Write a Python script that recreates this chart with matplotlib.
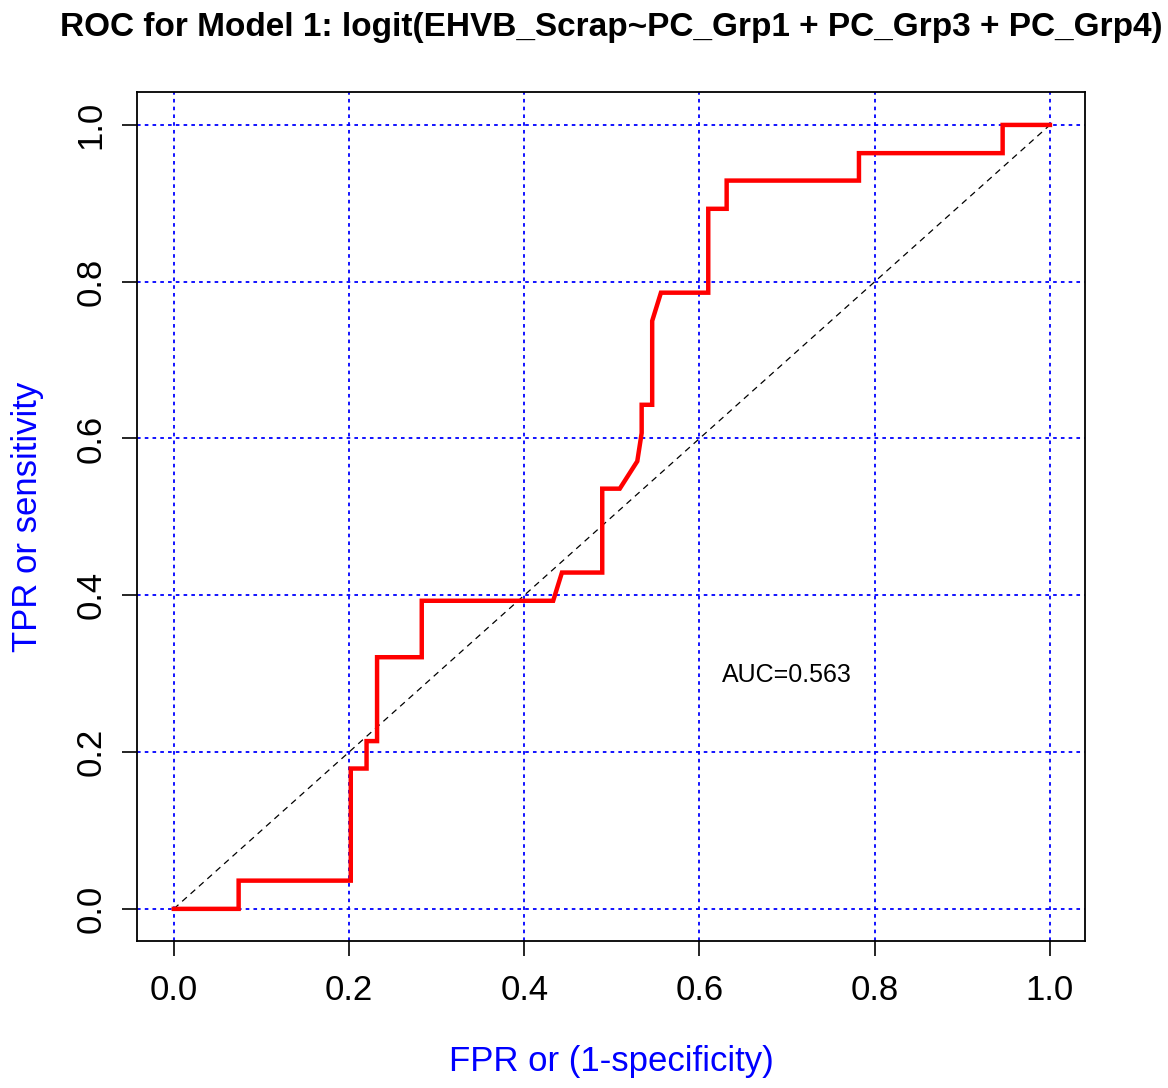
import numpy as np
import matplotlib.pyplot as plt

plt.rcParams['font.family'] = ['Liberation Sans', 'DejaVu Sans']

# ROC vertices
fpr = [0.0, 0.074, 0.074, 0.202, 0.202, 0.220, 0.220, 0.232, 0.232, 0.283, 0.283,
       0.433, 0.443, 0.489, 0.489, 0.509, 0.529, 0.534, 0.534, 0.546, 0.546, 0.556,
       0.610, 0.610, 0.631, 0.631, 0.782, 0.782, 0.946, 0.946, 1.0]
tpr = [0.0, 0.0, 0.036, 0.036, 0.179, 0.179, 0.214, 0.214, 0.321, 0.321, 0.393,
       0.393, 0.429, 0.429, 0.536, 0.536, 0.571, 0.607, 0.643, 0.643, 0.750, 0.786,
       0.786, 0.893, 0.893, 0.929, 0.929, 0.964, 0.964, 1.0, 1.0]
ticks = [0.0, 0.2, 0.4, 0.6, 0.8, 1.0]
auc_label = "AUC=0.563"
title = "ROC for Model 1: logit(EHVB_Scrap~PC_Grp1 + PC_Grp3 + PC_Grp4)"

fig = plt.figure(figsize=(11.68, 10.88), dpi=100)
ax = fig.add_axes([137/1168, 1 - 941/1088, (1085 - 137)/1168, (941 - 92)/1088])

# grid first so the curve sits on top
for t in ticks:
    ax.axvline(t, color='blue', lw=1.3, ls=(0, (2, 2.3)), zorder=1)
    ax.axhline(t, color='blue', lw=1.3, ls=(0, (2, 2.3)), zorder=1)

ax.plot([0, 1], [0, 1], color='black', lw=0.9, ls=(0, (5, 4)), zorder=2)  # chance line
ax.plot(fpr, tpr, color='red', lw=3.2, solid_joinstyle='miter', zorder=3)

ax.text(0.7, 0.298, auc_label, fontsize=18, ha='center', va='center', color='black')

ax.set_xlim(-0.042, 1.040)
ax.set_ylim(-0.041, 1.042)
ax.set_xticks(ticks)
ax.set_yticks(ticks)
ax.set_xticklabels([f"{t:.1f}" for t in ticks], fontsize=25)
ax.set_yticklabels([f"{t:.1f}" for t in ticks], fontsize=25, rotation=90, va='center')
ax.tick_params(direction='out', length=11, width=1.2, pad=13, color='black')
ax.tick_params(axis='y', pad=10)
for s in ax.spines.values():
    s.set_linewidth(1.3)

ax.set_xlabel("FPR or (1-specificity)", fontsize=25, color='blue', labelpad=27)
ax.set_ylabel("TPR or sensitivity", fontsize=25, color='blue', labelpad=22)
ax.set_title(title, fontsize=24, fontweight='bold', pad=40)

fig.savefig("out.png", dpi=100)
